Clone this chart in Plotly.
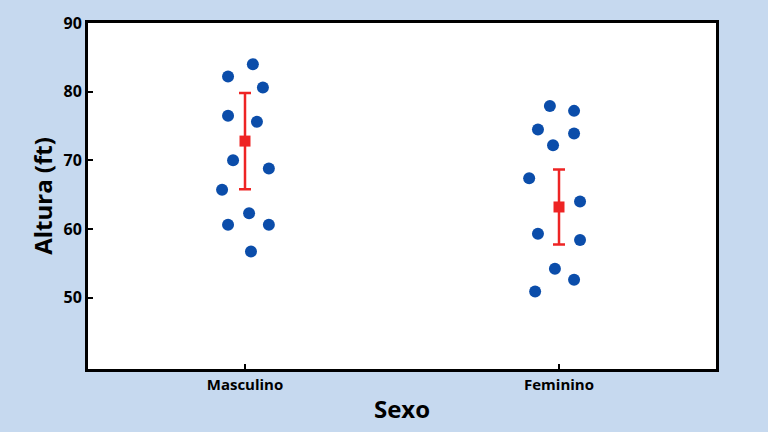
import plotly.graph_objects as go

categories = ["Masculino", "Feminino"]
masc_heights = [84.0, 82.2, 80.6, 76.5, 75.6, 70.0, 68.8, 65.7, 62.3, 60.6, 60.6, 56.7]
masc_jitter = [0.025, -0.054, 0.057, -0.054, 0.038, -0.038, 0.076, -0.073, 0.013, -0.054, 0.076, 0.019]
fem_heights = [77.9, 77.2, 74.5, 73.9, 72.2, 67.4, 64.0, 59.3, 58.4, 54.2, 52.6, 50.9]
fem_jitter = [-0.029, 0.048, -0.067, 0.048, -0.019, -0.095, 0.067, -0.067, 0.067, -0.013, 0.048, -0.076]
means = [72.8, 63.2]
errors = [7.0, 5.45]
y_ticks = [50, 60, 70, 80, 90]

fig = go.Figure()
blue = "#0B4DAA"
red = "#EE2424"
for i, (h, j) in enumerate([(masc_heights, masc_jitter), (fem_heights, fem_jitter)]):
    fig.add_trace(go.Scatter(
        x=[i + d for d in j], y=h, mode="markers",
        marker=dict(color=blue, size=12, line=dict(width=0)),
        showlegend=False, hoverinfo="y"))

fig.add_trace(go.Scatter(
    x=list(range(len(categories))), y=means, mode="markers",
    marker=dict(color=red, size=11, symbol="square"),
    error_y=dict(type="data", array=errors, color=red, thickness=2.5, width=6),
    showlegend=False))

font_family = "Open Sans"
fig.update_layout(
    width=768, height=432,
    paper_bgcolor="#C6D9EF", plot_bgcolor="white",
    margin=dict(l=88, r=52, t=17, b=62),
    font=dict(family=font_family, color="black"),
    xaxis=dict(
        range=[-0.5, 1.5], tickvals=[0, 1], ticktext=categories,
        showgrid=False, zeroline=False,
        showline=True, linecolor="black", linewidth=3, mirror=True,
        ticks="inside", ticklen=5, tickwidth=2, tickcolor="black",
        tickfont=dict(size=15, family=font_family, weight="bold"),
        title=dict(text="Sexo", font=dict(size=24, family=font_family, weight="bold"), standoff=9),
    ),
    yaxis=dict(
        range=[39.6, 90], tickvals=y_ticks,
        showgrid=False, zeroline=False,
        showline=True, linecolor="black", linewidth=3, mirror=True,
        ticks="inside", ticklen=5, tickwidth=2, tickcolor="black",
        tickfont=dict(size=16, family=font_family, weight="bold"),
        title=dict(text="Altura (ft)", font=dict(size=24, family=font_family, weight="bold"), standoff=5),
    ),
)

fig.write_html("out.html", config={"displayModeBar": False},
               post_script="document.body.style.margin='0';")
